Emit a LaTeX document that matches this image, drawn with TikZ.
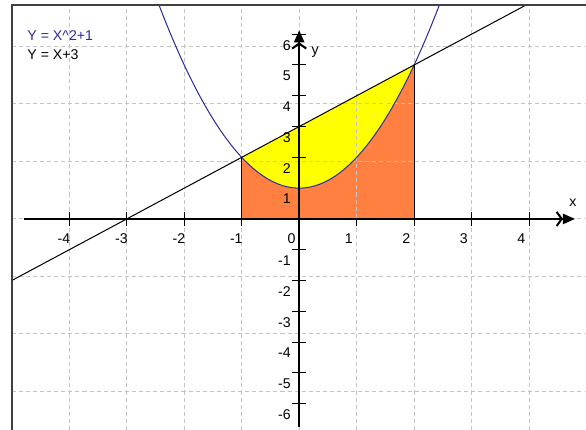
\documentclass[tikz,border=0pt]{standalone}
\usepackage{fontspec}
\setsansfont{Liberation Sans}
\usetikzlibrary{arrows.meta}
\begin{document}
\begin{tikzpicture}[x=1cm,y=0.5357cm,font=\sffamily\fontsize{7}{8.4}\selectfont]
\definecolor{ink}{HTML}{000000}\definecolor{curve}{HTML}{2A2AA0}
\definecolor{rule}{HTML}{C4C4C4}\definecolor{frame}{HTML}{404040}
\definecolor{area}{HTML}{FF8040}\definecolor{areaii}{HTML}{FFFF00}
\tikzset{axis/.style={ink,line width=1pt,-{Straight Barb[length=2.5pt,width=7pt,line width=1pt]Triangle[length=6pt,width=5pt]}},
  tick/.style={ink,line width=0.5pt},
  lab/.style={inner sep=0pt,text=ink}}
\useasboundingbox (-5.205,-6.85) rectangle (4.99,7.11);
\fill[area] (-1,0) -- plot[domain=-1:2,samples=40] (\x,{\x*\x+1}) -- (2,0) -- cycle;
\fill[areaii] (-1,2) -- (2,5) -- plot[domain=2:-1,samples=40] (\x,{\x*\x+1}) -- cycle;
\draw[rule,line width=0.5pt,dash pattern=on 2pt off 1.5pt] (-5,-6.85) grid (4.99,6.95);
\draw[ink,line width=0.5pt] (-1,0) -- (-1,2);
\draw[ink,line width=0.5pt] (2,0) -- (2,5);
\draw[curve,line width=0.5pt] plot[domain=-2.4393:2.4393,samples=80] (\x,{\x*\x+1});
\draw[ink,line width=0.5pt] (-5,-2) -- (3.95,6.95);
\draw[axis] (-4.78,0) -- (4.80,0);
\draw[axis] (0,-6.76) -- (0,6.13);
\draw[tick] (-4,-0.23) -- (-4,0.23);
\draw[tick] (-3,-0.23) -- (-3,0.23);
\draw[tick] (-2,-0.23) -- (-2,0.23);
\draw[tick] (-1,-0.23) -- (-1,0.23);
\draw[tick] (1,-0.23) -- (1,0);
\draw[tick] (2,-0.23) -- (2,0);
\draw[tick] (3,-0.23) -- (3,0.23);
\draw[tick] (4,-0.23) -- (4,0.23);
\draw[tick] (-0.12,6) -- (0.12,6);
\draw[tick] (-0.12,5) -- (0.12,5);
\draw[tick] (-0.12,4) -- (0.12,4);
\draw[tick] (-0.12,3) -- (0.12,3);
\draw[tick] (-0.12,2) -- (0.12,2);
\draw[tick] (-0.12,-1) -- (0.12,-1);
\draw[tick] (-0.12,-2) -- (0.12,-2);
\draw[tick] (-0.12,-3) -- (0.12,-3);
\draw[tick] (-0.12,-4) -- (0.12,-4);
\draw[tick] (-0.12,-5) -- (0.12,-5);
\draw[tick] (-0.12,-6) -- (0.12,-6);
\node[lab,anchor=north west] (xm4) at (-4.21,-0.48) {-4};
\node[lab,anchor=north west] (xm3) at (-3.21,-0.48) {-3};
\node[lab,anchor=north west] (xm2) at (-2.21,-0.48) {-2};
\node[lab,anchor=north west] (xm1) at (-1.21,-0.48) {-1};
\node[lab,anchor=north west] (x0) at (-0.21,-0.48) {0};
\node[lab,anchor=north west] (x1) at (0.79,-0.48) {1};
\node[lab,anchor=north west] (x2) at (1.79,-0.48) {2};
\node[lab,anchor=north west] (x3) at (2.79,-0.48) {3};
\node[lab,anchor=north west] (x4) at (3.79,-0.48) {4};
\node[lab,anchor=north east] (y6) at (-0.14,5.82) {6};
\node[lab,anchor=north east] (y5) at (-0.14,4.82) {5};
\node[lab,anchor=north east] (y4) at (-0.14,3.82) {4};
\node[lab,anchor=north east] (y3) at (-0.14,2.82) {3};
\node[lab,anchor=north east] (y2) at (-0.14,1.82) {2};
\node[lab,anchor=north east] (y1) at (-0.14,0.82) {1};
\node[lab,anchor=north east] (ym1) at (-0.14,-1.18) {-1};
\node[lab,anchor=north east] (ym2) at (-0.14,-2.18) {-2};
\node[lab,anchor=north east] (ym3) at (-0.14,-3.18) {-3};
\node[lab,anchor=north east] (ym4) at (-0.14,-4.18) {-4};
\node[lab,anchor=north east] (ym5) at (-0.14,-5.18) {-5};
\node[lab,anchor=north east] (ym6) at (-0.14,-6.18) {-6};
\node[lab] (xname) at (4.76,0.53) {x};
\node[lab] (yname) at (0.28,5.43) {y};
\draw[frame,line width=1pt] (-5,-6.85) -- (-5,6.95) -- (4.99,6.95);
\node[lab,anchor=west,text=curve] (leg1) at (-4.735,5.94) {Y = X\textasciicircum 2+1};
\node[lab,anchor=west] (leg2) at (-4.735,5.32) {Y = X+3};
\end{tikzpicture}
\end{document}
